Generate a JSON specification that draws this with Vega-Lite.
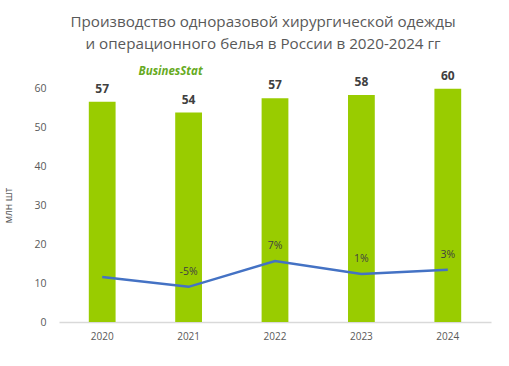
{
  "$schema": "https://vega.github.io/schema/vega-lite/v6.json",
  "width": 432,
  "height": 234,
  "autosize": {"type": "none"},
  "padding": {"left": 59, "top": 88, "right": 18, "bottom": 44},
  "background": "white",
  "config": {"view": {"stroke": null}, "font": "Open Sans"},
  "title": {
    "text": ["Производство одноразовой хирургической одежды", "и операционного белья в России в 2020-2024 гг"],
    "font": "Open Sans",
    "fontSize": 15.2,
    "fontWeight": "normal",
    "color": "#595959",
    "anchor": "middle",
    "dx": -12,
    "offset": 14,
    "lineHeight": 22
  },
  "data": {
    "values": [
      {"year": "2020", "value": 56.5, "label": "57", "growth": -0.4, "glabel": ""},
      {"year": "2021", "value": 53.7, "label": "54", "growth": -5, "glabel": "-5%"},
      {"year": "2022", "value": 57.4, "label": "57", "growth": 7, "glabel": "7%"},
      {"year": "2023", "value": 58.2, "label": "58", "growth": 1, "glabel": "1%"},
      {"year": "2024", "value": 59.8, "label": "60", "growth": 3, "glabel": "3%"}
    ]
  },
  "encoding": {
    "x": {
      "field": "year",
      "type": "nominal",
      "scale": {"paddingInner": 0.69, "paddingOuter": 0.345},
      "axis": {
        "title": null,
        "labelAngle": 0,
        "labelColor": "#595959",
        "labelFontSize": 10,
        "labelPadding": 9,
        "ticks": false,
        "domainColor": "#d9d9d9",
        "domainWidth": 1.5
      }
    }
  },
  "layer": [
    {
      "encoding": {
        "y": {
          "field": "value",
          "type": "quantitative",
          "scale": {"domain": [0, 60], "nice": false},
          "axis": {
            "title": "млн шт",
            "titleFontSize": 10,
            "titleFontWeight": "normal",
            "titleColor": "#595959",
            "titlePadding": 20,
            "labelColor": "#595959",
            "labelFontSize": 10.5,
            "labelPadding": 13,
            "labelOverlap": false,
            "ticks": false,
            "domain": false,
            "grid": false,
            "values": [0, 10, 20, 30, 40, 50, 60]
          }
        }
      },
      "layer": [
        {
          "mark": {"type": "bar", "color": "#99CC00"}
        },
        {
          "mark": {"type": "text", "fontWeight": "bold", "fontSize": 12, "color": "#404040", "dy": -13},
          "encoding": {"text": {"field": "label"}}
        },
        {
          "data": {"values": [{"year": "2021", "value": 64, "logo": "BusinesStat"}]},
          "mark": {"type": "text", "fontWeight": "bold", "fontStyle": "italic", "fontSize": 11.5, "color": "#66AA22", "dx": -18, "clip": false},
          "encoding": {"text": {"field": "logo"}}
        }
      ]
    },
    {
      "encoding": {
        "y": {"field": "growth", "type": "quantitative", "scale": {"domain": [-21.4, 87.7], "nice": false, "zero": false}, "axis": null}
      },
      "layer": [
        {
          "mark": {"type": "line", "color": "#4472C4", "strokeWidth": 2.5}
        },
        {
          "mark": {"type": "text", "fontSize": 10.5, "color": "#404040", "dy": -15},
          "encoding": {"text": {"field": "glabel"}}
        }
      ]
    }
  ],
  "resolve": {"scale": {"y": "independent"}}
}
